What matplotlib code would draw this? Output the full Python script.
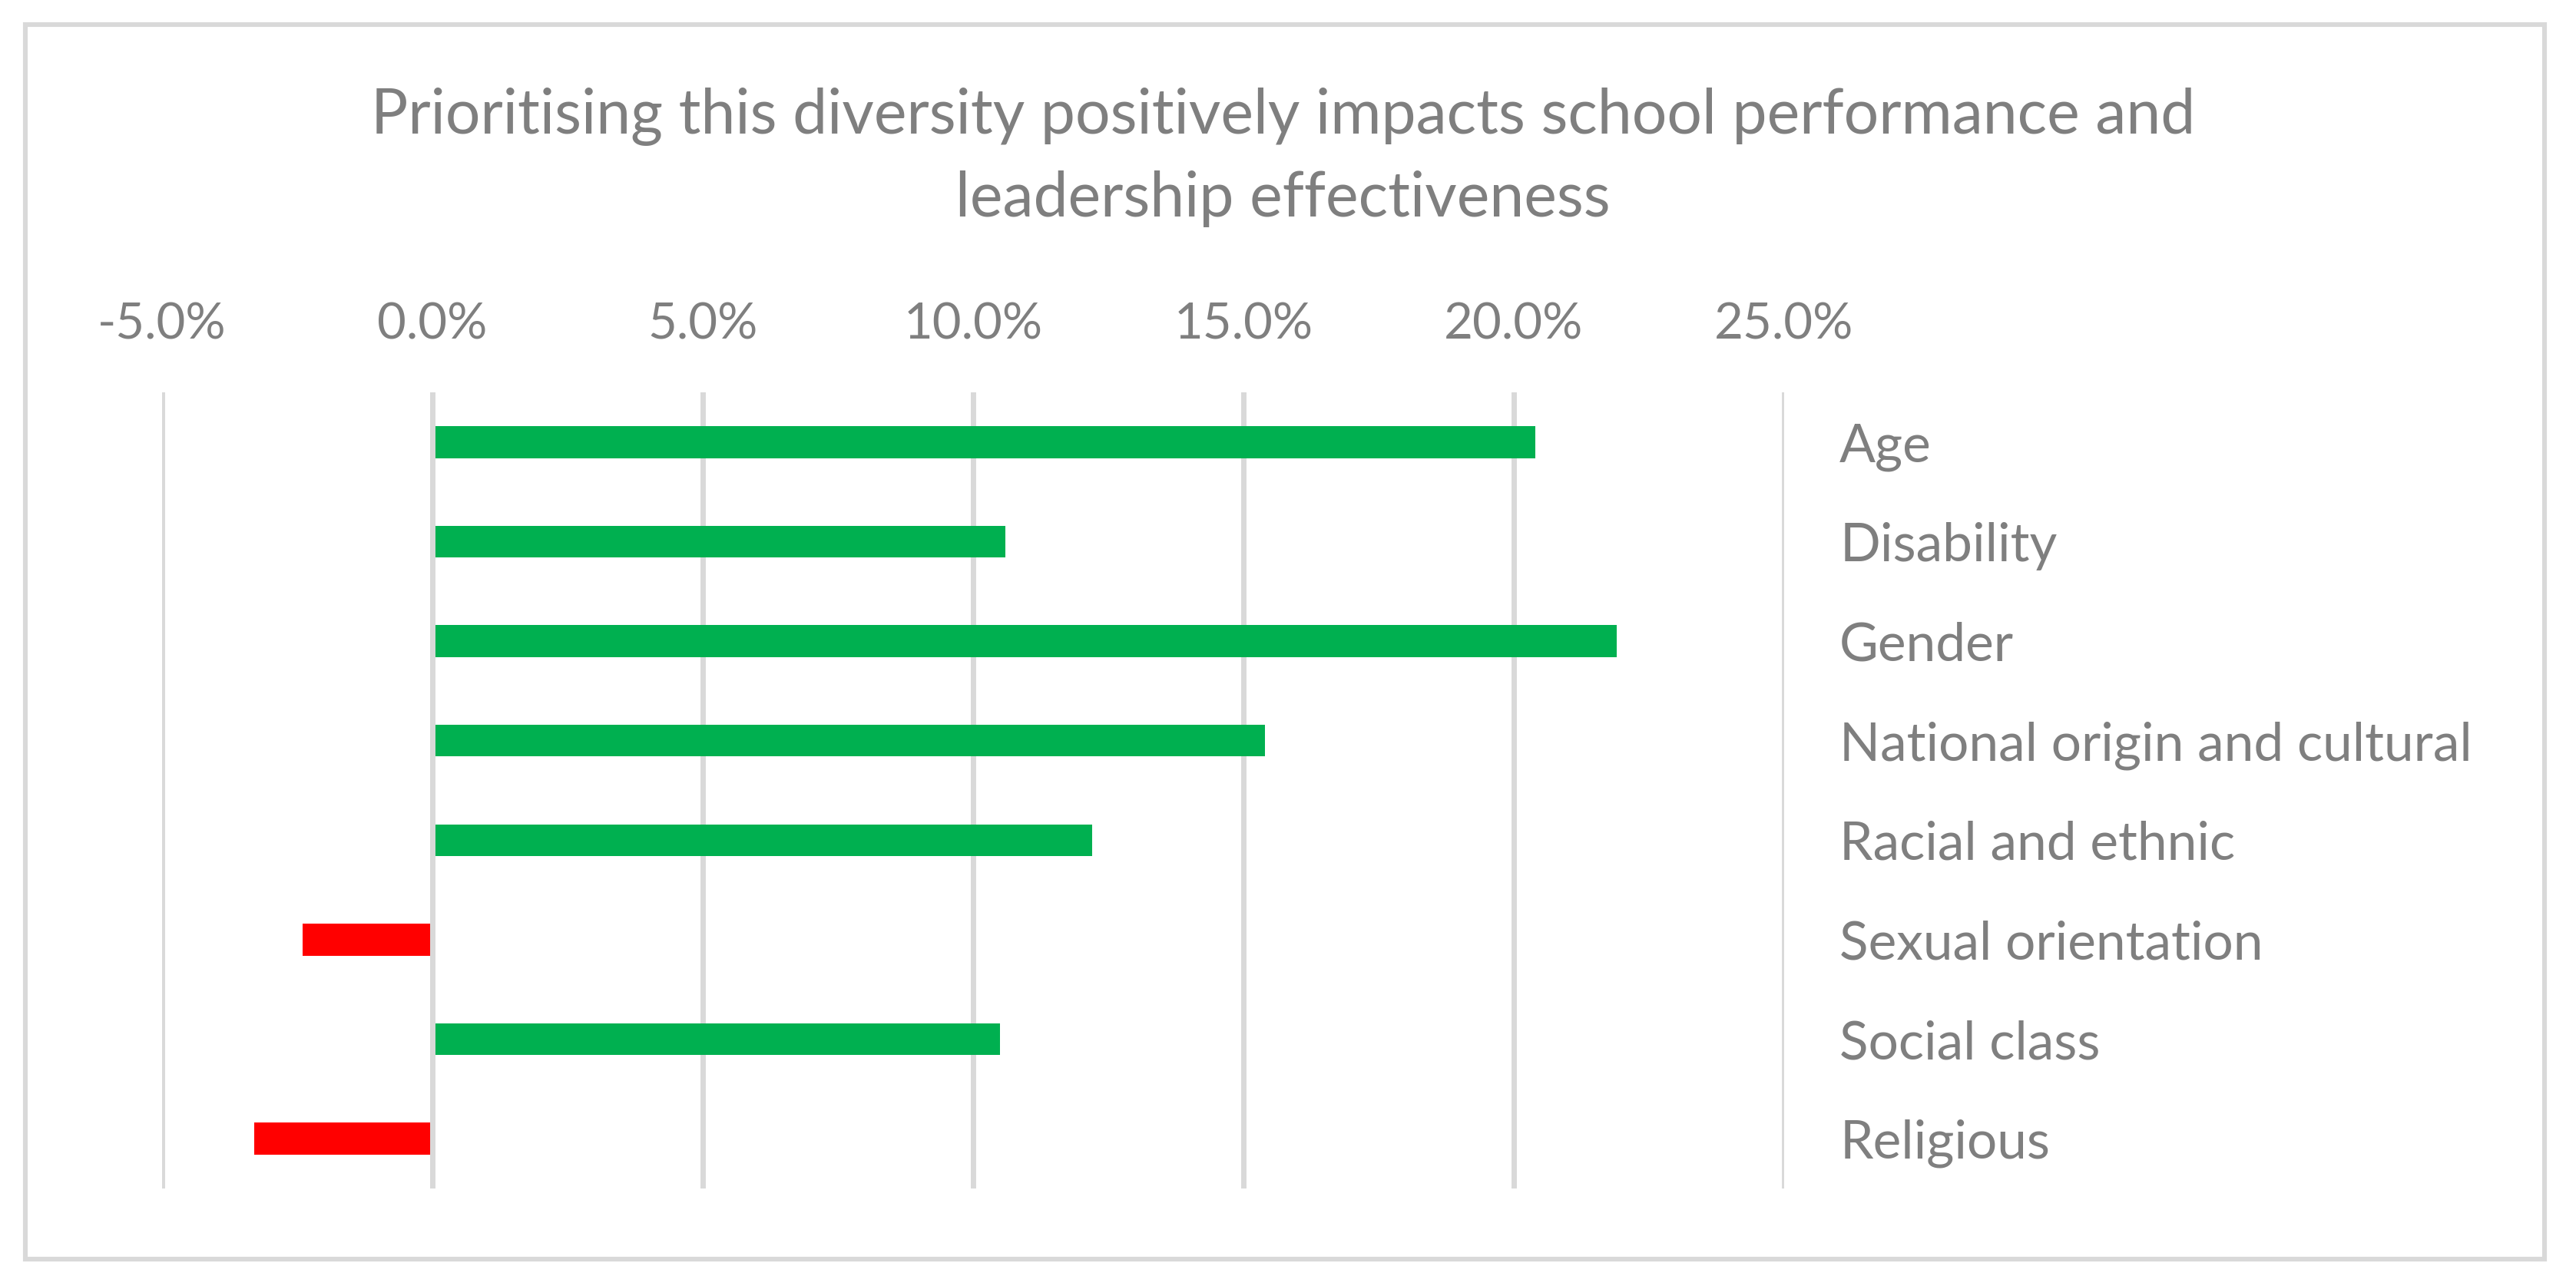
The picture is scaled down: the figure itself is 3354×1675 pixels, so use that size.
import matplotlib
matplotlib.use("Agg")
import matplotlib.pyplot as plt
from matplotlib.patches import Rectangle
from matplotlib.ticker import FuncFormatter

categories = ["Age", "Disability", "Gender", "National origin and cultural",
              "Racial and ethnic", "Sexual orientation", "Social class", "Religious"]
values = [20.4, 10.6, 21.9, 15.4, 12.2, -2.4, 10.5, -3.3]
x_ticks = [-5, 0, 5, 10, 15, 20, 25]
title_lines = ["Prioritising this diversity positively impacts school performance and",
               "leadership effectiveness"]

GREEN = "#00B050"
RED = "#FF0000"
GRID = "#D9D9D9"
TEXT = "#7F7F7F"

plt.rcParams["font.family"] = ["Lato", "DejaVu Sans"]

W, H, DPI = 3354, 1675, 200
fig = plt.figure(figsize=(W / DPI, H / DPI), dpi=DPI)

# outer chart border
fig.patches.append(Rectangle((33 / W, 1 - 1640 / H), (3313 - 33) / W, (1640 - 31.5) / H,
                             transform=fig.transFigure, fill=False,
                             edgecolor=GRID, linewidth=2.2))

ax = fig.add_axes([211 / W, 1 - 1548 / H, (2323 - 211) / W, (1548 - 511) / H])

ypos = list(range(len(categories)))
colors = [GREEN if v >= 0 else RED for v in values]
ax.barh(ypos, values, height=0.32, color=colors, zorder=2)
ax.axvline(0, color=GRID, linewidth=2.5, zorder=3)

ax.set_xlim(-5, 25)
ax.set_ylim(len(categories) - 0.5, -0.5)
ax.set_xticks(x_ticks)
ax.xaxis.set_major_formatter(FuncFormatter(lambda v, p: f"{v:.1f}%"))
ax.xaxis.tick_top()
ax.yaxis.tick_right()
ax.set_yticks(ypos)
ax.set_yticklabels(categories)
ax.tick_params(axis="x", length=0, pad=21, labelsize=23.5, labelcolor=TEXT)
ax.tick_params(axis="y", length=0, pad=26, labelsize=25, labelcolor=TEXT)
for lab in ax.get_yticklabels():
    lab.set_horizontalalignment("left")

ax.grid(axis="x", color=GRID, linewidth=2.5, zorder=0)
ax.set_axisbelow(True)
for s in ax.spines.values():
    s.set_visible(False)

fig.text(0.498, 1 - 174 / H, title_lines[0], ha="center", va="baseline",
         fontsize=29, color=TEXT)
fig.text(0.498, 1 - 282 / H, title_lines[1], ha="center", va="baseline",
         fontsize=29, color=TEXT)

fig.savefig("out.png", dpi=DPI, facecolor="white")
